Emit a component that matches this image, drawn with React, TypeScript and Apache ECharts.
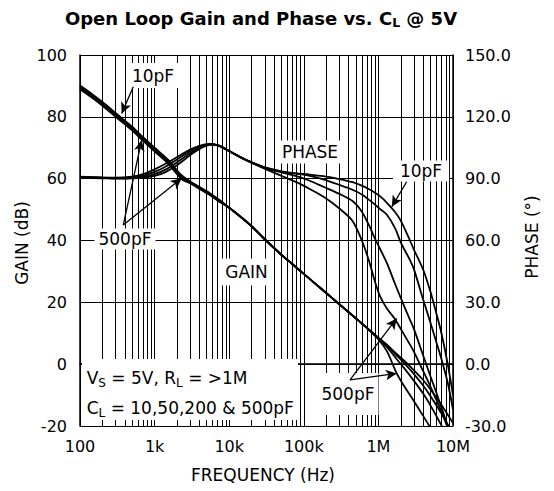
import React, { useEffect, useRef } from "react";
import * as echarts from "echarts";

const FONT = "DejaVu Sans";

// Gain (dB) vs frequency (Hz) for C_L = 10, 50, 200, 500 pF
const freqGain = [100, 150, 200, 323, 500, 700, 1000, 1500, 2300, 3000, 4000, 5500, 7100, 10000, 15000, 20000, 30000, 50000, 70000, 100000, 181000, 276000, 400000, 660000, 1000000, 1300000, 1760000, 2200000, 3000000, 4000000, 5000000, 7000000, 10000000];
const gain10 = [90.1, 87.1, 84.8, 80.6, 76.8, 73.4, 70.0, 66.2, 61.1, 59.1, 57.3, 55.3, 53.4, 50.6, 47.2, 44.6, 40.4, 35.4, 32.4, 29.2, 23.9, 20.1, 16.8, 12.3, 8.6, 6.3, 3.3, 1.2, -2.0, -5.2, -8.2, -13.2, -19.0];
const gain50 = [89.7, 86.7, 84.4, 80.2, 76.4, 73.0, 69.6, 65.8, 60.7, 58.9, 57.1, 55.1, 53.2, 50.6, 47.2, 44.6, 40.4, 35.4, 32.4, 29.2, 23.9, 20.1, 16.8, 12.3, 8.5, 6.0, 2.8, 0.4, -3.2, -7.0, -10.4, -16.0, -22.5];
const gain200 = [89.3, 86.3, 84.0, 79.8, 76.0, 72.6, 69.2, 65.4, 60.3, 58.7, 56.9, 54.9, 53.0, 50.6, 47.2, 44.6, 40.4, 35.4, 32.4, 29.2, 23.9, 20.1, 16.8, 12.3, 8.3, 5.6, 1.6, -1.2, -5.4, -9.6, -13.4, -19.8, -27.0];
const gain500 = [88.9, 85.9, 83.6, 79.4, 75.6, 72.2, 68.8, 65.0, 59.9, 58.5, 56.7, 54.7, 52.8, 50.6, 47.2, 44.6, 40.4, 35.4, 32.4, 29.2, 23.9, 20.1, 16.8, 12.2, 8.0, 4.2, -3.0, -7.0, -12.0, -16.8, -20.6, -26.0, -33.0];

// Phase (deg) vs frequency (Hz)
const freqPhase = [100, 200, 300, 500, 700, 1000, 1400, 1900, 2500, 3200, 4200, 5500, 7000, 9000, 11300, 15000, 19000, 25000, 32000, 53000, 80000, 120000, 182000, 300000, 450000, 600000, 750000, 900000, 1050000, 1300000, 1670000, 2000000, 2650000, 3000000, 4000000, 5000000, 6000000, 7000000, 8500000, 10000000];
const phase10 = [91.0, 90.6, 90.5, 91.0, 92.2, 94.5, 97.2, 100.0, 102.6, 104.6, 106.2, 106.9, 106.3, 104.4, 102.4, 100.0, 98.3, 96.6, 95.2, 93.4, 92.6, 92.0, 91.2, 89.8, 88.3, 86.6, 84.9, 83.2, 81.5, 78.3, 73.8, 69.5, 60.0, 55.5, 45.7, 35.0, 24.5, 15.0, 0.0, -15.0];
const phase50 = [90.8, 90.5, 90.4, 90.6, 91.5, 93.3, 95.8, 98.8, 101.6, 103.9, 105.8, 106.8, 106.3, 104.4, 102.4, 100.0, 98.3, 96.5, 95.1, 93.2, 92.4, 91.4, 89.7, 87.0, 84.6, 82.3, 79.7, 77.4, 75.3, 72.5, 66.0, 59.0, 50.5, 46.0, 31.1, 20.0, 10.5, 2.5, -9.0, -22.0];
const phase200 = [90.6, 90.4, 90.2, 90.3, 90.9, 92.2, 94.4, 97.4, 100.4, 103.0, 105.3, 106.6, 106.2, 104.3, 102.3, 99.9, 98.2, 96.4, 94.9, 92.8, 91.2, 89.0, 86.1, 82.6, 79.2, 74.0, 67.3, 60.9, 56.0, 49.0, 39.0, 32.0, 21.5, 17.0, 4.0, -6.0, -14.0, -21.0, -30.0, -38.0];
const phase500 = [90.4, 90.2, 90.0, 90.1, 90.5, 91.3, 93.2, 96.0, 99.2, 102.2, 104.8, 106.4, 106.1, 104.2, 102.2, 99.8, 98.0, 96.1, 94.4, 91.0, 88.3, 85.0, 81.3, 75.5, 69.5, 60.0, 50.0, 40.0, 33.0, 27.0, 21.8, 17.0, 9.5, 6.0, -3.5, -11.0, -17.5, -23.0, -31.0, -40.0];

const freqTickLabels: Record<string, string> = { "100": "100", "1000": "1k", "10000": "10k", "100000": "100k", "1000000": "1M", "10000000": "10M" };

// Arrows: [from, to] in (Hz, dB)
const arrows: [number, number][][] = [
  [[518, 89.75], [362, 81.1]],
  [[380, 45.0], [671, 72.5]],
  [[380, 45.0], [2307, 60.1]],
  [[2390000, 59.0], [1510000, 50.9]],
  [[416000, -5.1], [1760000, 14.8]],
  [[416000, -5.1], [1760000, -3.0]],
];

const minorFreqs: number[] = [];
[100, 1000, 10000, 100000, 1000000].forEach((d) => {
  for (let k = 2; k <= 9; k++) minorFreqs.push(k * d);
});

const pairs = (f: number[], v: number[]) => f.map((x, i) => [x, v[i]]);

const curve = (name: string, data: number[][], yAxisIndex: number) => ({
  name,
  type: "line",
  yAxisIndex,
  data,
  smooth: 0.3,
  showSymbol: false,
  symbol: "none",
  z: 20,
  lineStyle: { color: "#000", width: 1.8 },
});

const sub = {
  n: { fontSize: 17, fontFamily: FONT, fill: "#000", lineHeight: 22, verticalAlign: "middle" },
  s: { fontSize: 12, fontFamily: FONT, fill: "#000", lineHeight: 22, verticalAlign: "bottom", padding: [9, 0, 0, 0] },
};

const label = (text: string, x: number, y: number, padding: number[], fontSize = 17) => ({
  type: "text",
  z: 10,
  x,
  y,
  style: {
    text,
    fontFamily: FONT,
    fontSize,
    fill: "#000",
    align: "center",
    verticalAlign: "middle",
    backgroundColor: "#fff",
    padding,
  },
});

export default function App() {
  const ref = useRef<HTMLDivElement>(null);
  useEffect(() => {
    if (!ref.current) return;
    document.body.style.margin = "0";
    const chart = echarts.init(ref.current, null, { renderer: "svg" });
    const axisLabel = { fontFamily: FONT, fontSize: 16, color: "#000" };
    chart.setOption({
      animation: false,
      grid: { left: 80, right: 101, top: 55, bottom: 65 },
      xAxis: {
        type: "log",
        logBase: 10,
        min: 100,
        max: 10000000,
        z: 0,
        axisLine: { show: true, lineStyle: { color: "#000", width: 1.5 } },
        axisTick: { show: false },
        axisLabel: {
          ...axisLabel,
          margin: 12,
          formatter: (v: number) => freqTickLabels[String(Math.round(v))] ?? "",
        },
        splitLine: { show: true, lineStyle: { color: "#000", width: 1 } },
      },
      yAxis: [
        {
          type: "value",
          min: -20,
          max: 100,
          interval: 20,
          position: "left",
          z: 0,
          axisLine: { show: true, lineStyle: { color: "#000", width: 1.5 } },
          axisTick: { show: false },
          axisLabel: { ...axisLabel, margin: 13 },
          splitLine: { show: true, lineStyle: { color: "#000", width: 1 } },
        },
        {
          type: "value",
          min: -30,
          max: 150,
          interval: 30,
          position: "right",
          z: 0,
          axisLine: { show: true, lineStyle: { color: "#000", width: 1.5 } },
          axisTick: { show: false },
          axisLabel: { ...axisLabel, margin: 12, formatter: (v: number) => v.toFixed(1) },
          splitLine: { show: false },
        },
      ],
      series: [
        {
          name: "grid",
          type: "line",
          data: [],
          z: 1,
          silent: true,
          markLine: {
            z: 1,
            silent: true,
            symbol: ["none", "none"],
            label: { show: false },
            lineStyle: { color: "#000", width: 1, type: "solid" },
            data: minorFreqs.map((f) => ({ xAxis: f })),
          },
        },
        curve("Gain 10pF", pairs(freqGain, gain10), 0),
        curve("Gain 50pF", pairs(freqGain, gain50), 0),
        curve("Gain 200pF", pairs(freqGain, gain200), 0),
        curve("Gain 500pF", pairs(freqGain, gain500), 0),
        curve("Phase 10pF", pairs(freqPhase, phase10), 1),
        curve("Phase 50pF", pairs(freqPhase, phase50), 1),
        curve("Phase 200pF", pairs(freqPhase, phase200), 1),
        curve("Phase 500pF", pairs(freqPhase, phase500), 1),
        {
          name: "arrows",
          type: "line",
          data: [],
          z: 30,
          silent: true,
          markLine: {
            z: 30,
            silent: true,
            symbol: ["none", "arrow"],
            symbolSize: [8, 11],
            label: { show: false },
            lineStyle: { color: "#000", width: 1.3, type: "solid" },
            itemStyle: { color: "#000" },
            data: arrows.map(([a, b]) => [{ coord: a }, { coord: b }]),
          },
        },
      ],
      graphic: [
        {
          type: "text",
          x: 261,
          y: 18,
          z: 10,
          style: {
            text: "{t|Open Loop Gain and Phase vs. C}{u|L}{t| @ 5V}",
            align: "center",
            verticalAlign: "middle",
            rich: {
              t: { fontSize: 18, fontWeight: "bold", fontFamily: FONT, fill: "#000", lineHeight: 22, verticalAlign: "middle" },
              u: { fontSize: 12.5, fontWeight: "bold", fontFamily: FONT, fill: "#000", lineHeight: 22, verticalAlign: "bottom", padding: [9, 0, 0, 0] },
            },
          },
        },
        {
          type: "text",
          x: 21.5,
          y: 243,
          z: 10,
          rotation: Math.PI / 2,
          style: { text: "GAIN (dB)", fontFamily: FONT, fontSize: 17, fill: "#000", align: "center", verticalAlign: "middle" },
        },
        {
          type: "text",
          x: 532,
          y: 237,
          z: 10,
          rotation: Math.PI / 2,
          style: { text: "PHASE (°)", fontFamily: FONT, fontSize: 17, fill: "#000", align: "center", verticalAlign: "middle" },
        },
        {
          type: "text",
          x: 263,
          y: 475,
          z: 10,
          style: { text: "FREQUENCY (Hz)", fontFamily: FONT, fontSize: 17, fill: "#000", align: "center", verticalAlign: "middle" },
        },
        label("10pF", 153, 75.5, [4, 4, 4, 4]),
        label("500pF", 125, 239, [2, 4, 2, 4]),
        label("PHASE", 310, 152, [3, 4, 3, 4]),
        label("GAIN", 246.5, 272, [5, 5, 5, 5]),
        label("10pF", 421, 171, [2, 7, 2, 7]),
        label("500pF", 348, 394, [20, 4, 5, 4]),
        {
          type: "rect",
          z: 10,
          shape: { x: 82, y: 359, width: 216, height: 61 },
          style: { fill: "#fff" },
        },
        {
          type: "text",
          z: 11,
          x: 86.7,
          y: 378,
          style: { text: "{n|V}{s|S}{n| = 5V, R}{s|L}{n| = >1M}", align: "left", verticalAlign: "middle", rich: sub },
        },
        {
          type: "text",
          z: 11,
          x: 86.7,
          y: 408,
          style: { text: "{n|C}{s|L}{n| = 10,50,200 & 500pF}", align: "left", verticalAlign: "middle", rich: sub },
        },
      ],
    });
    return () => chart.dispose();
  }, []);
  return <div ref={ref} style={{ width: 554, height: 491 }} />;
}
